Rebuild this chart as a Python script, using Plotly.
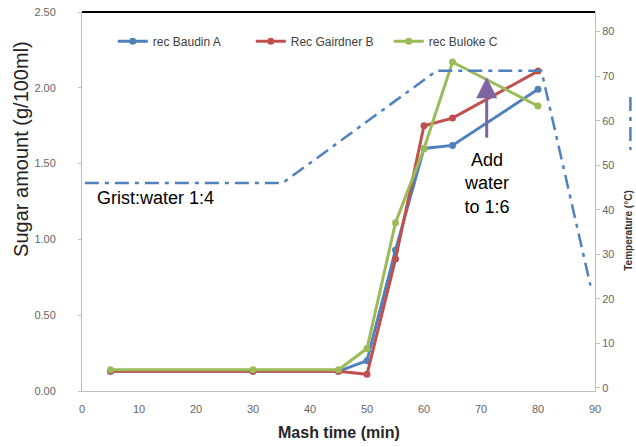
import plotly.graph_objects as go

# Mash sugar extraction for three recovery samples
mash_time = [5, 30, 45, 50, 55, 60, 65, 80]
baudin_a = [0.13, 0.13, 0.13, 0.20, 0.93, 1.60, 1.62, 1.99]
gairdner_b = [0.13, 0.13, 0.13, 0.11, 0.87, 1.75, 1.80, 2.11]
buloke_c = [0.14, 0.14, 0.14, 0.28, 1.11, 1.60, 2.17, 1.88]

# Mash temperature programme (°C)
temp_time = [0.5, 35.2, 62.2, 80.6, 89.2]
temp_c = [46, 46, 71.2, 71.2, 23]

x_ticks = [0, 10, 20, 30, 40, 50, 60, 70, 80, 90]
sugar_ticks = [0, 0.5, 1.0, 1.5, 2.0, 2.5]
temp_ticks = [0, 10, 20, 30, 40, 50, 60, 70, 80]

BLUE = "#4F81BD"
RED = "#C0504D"
GREEN = "#9BBB59"
PURPLE = "#8064A2"
AXIS_GREY = "#BFBFBF"
TICK_FONT = dict(family="Liberation Sans, Arial", size=11, color="#666666")
DASHDOT = "14px,6px,4px,6px"

fig = go.Figure()

# Temperature profile on the secondary axis
fig.add_trace(go.Scatter(
    x=temp_time, y=temp_c, yaxis="y2", mode="lines",
    line=dict(color=BLUE, width=2.5, dash=DASHDOT),
    showlegend=False, hoverinfo="skip",
))

for name, vals, col in [
    ("rec Baudin A", baudin_a, BLUE),
    ("Rec Gairdner B", gairdner_b, RED),
    ("rec Buloke C", buloke_c, GREEN),
]:
    fig.add_trace(go.Scatter(
        x=mash_time, y=vals, name=name, mode="lines+markers",
        line=dict(color=col, width=3),
        marker=dict(color=col, size=7, symbol="circle"),
    ))

fig.update_layout(
    width=636, height=447,
    margin=dict(l=82, r=41, t=12, b=56, autoexpand=False),
    paper_bgcolor="white", plot_bgcolor="white",
    font=dict(family="Liberation Sans, Arial", color="#222222"),
    xaxis=dict(
        range=[0, 90], tickvals=x_ticks, showgrid=False, zeroline=False,
        showline=True, linecolor=AXIS_GREY, linewidth=1, automargin=False,
        ticks="", tickfont=TICK_FONT, ticklabelstandoff=8,
    ),
    yaxis=dict(
        range=[0, 2.5], tickvals=sugar_ticks, tickformat=".2f",
        showgrid=False, zeroline=False, showline=True, automargin=False,
        linecolor=AXIS_GREY, linewidth=1, ticks="outside", ticklen=3,
        tickcolor=AXIS_GREY, tickfont=TICK_FONT, ticklabelstandoff=20,
    ),
    yaxis2=dict(
        overlaying="y", side="right", anchor="x", automargin=False,
        range=[-0.7, 84.4], tickvals=temp_ticks,
        showgrid=False, zeroline=False, showline=True,
        linecolor=AXIS_GREY, linewidth=1, ticks="outside", ticklen=4,
        tickcolor=AXIS_GREY, tickfont=TICK_FONT,
    ),
    legend=dict(
        orientation="h", x=0.06, y=0.923, xanchor="left", yanchor="middle",
        entrywidth=93, bgcolor="rgba(0,0,0,0)",
        font=dict(size=12, color="#404040"),
    ),
    showlegend=True,
)

# Heavy top border of the plot frame
fig.add_shape(type="line", xref="paper", yref="paper", x0=0, x1=1, y0=1, y1=1,
              line=dict(color="black", width=2))
# Short temperature key beside the right-hand axis title
fig.add_shape(type="line", xref="paper", yref="paper", x0=1.069, x1=1.069,
              y0=0.776, y1=0.636,
              line=dict(color=BLUE, width=2.5, dash=DASHDOT))

# Axis titles
fig.add_annotation(text="Sugar amount (g/100ml)", xref="paper", yref="paper",
                   x=-0.118, y=0.64, xanchor="center", yanchor="middle",
                   textangle=-90, showarrow=False,
                   font=dict(size=20, color="#222222"))
fig.add_annotation(text="<b>Mash time (min)</b>", xref="paper", yref="paper",
                   x=0.5, y=-0.11, xanchor="center", yanchor="middle",
                   showarrow=False, font=dict(size=16, color="#262626"))
fig.add_annotation(text="<b>Temperature (°C)</b>", xref="paper", yref="paper",
                   x=1.066, y=0.425, xanchor="center", yanchor="middle",
                   textangle=-90, showarrow=False,
                   font=dict(size=10, color="#333333"))

# Process notes
fig.add_annotation(text="Grist:water 1:4", x=2.2, y=1.275, xanchor="left",
                   showarrow=False, font=dict(size=18, color="black"))
fig.add_annotation(text="Add<br>water<br>to 1:6", x=71, y=1.367,
                   showarrow=False, font=dict(size=18, color="black"))
fig.add_annotation(x=71, y=2.07, ax=71, ay=1.66, axref="x", ayref="y",
                   text="", showarrow=True, arrowhead=2, arrowsize=1.4,
                   arrowwidth=3, arrowcolor=PURPLE)

fig.write_html("out.html")
